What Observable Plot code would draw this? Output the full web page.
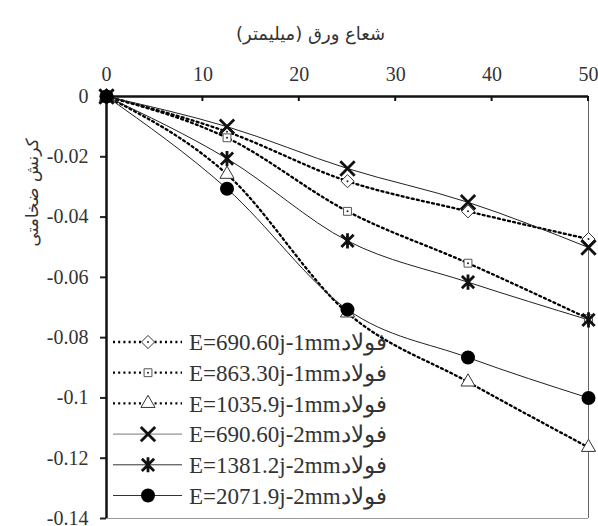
<!DOCTYPE html>
<html><head><meta charset="utf-8">
<script src="https://cdn.jsdelivr.net/npm/d3@7"></script>
<script src="https://cdn.jsdelivr.net/npm/@observablehq/plot@0.6"></script>
<style>
html,body{margin:0;padding:0;background:#fff;}
#chart svg{display:block;}
</style>
</head><body><div id="chart"></div>
<script>
// ---- data ----
const radius = [0, 12.5, 25, 37.5, 50];
const seriesNames = [
  "E=690.60j-1mmفولاد",
  "E=863.30j-1mmفولاد",
  "E=1035.9j-1mmفولاد",
  "E=690.60j-2mmفولاد",
  "E=1381.2j-2mmفولاد",
  "E=2071.9j-2mmفولاد"
];
const strain690_1mm  = [0, -0.0117, -0.0281, -0.0381, -0.0473];
const strain863_1mm  = [0, -0.0137, -0.0381, -0.0553, -0.0737];
const strain1036_1mm = [0, -0.0258, -0.0718, -0.0947, -0.1164];
const strain690_2mm  = [0, -0.0100, -0.0239, -0.0351, -0.0501];
const strain1381_2mm = [0, -0.0206, -0.0479, -0.0616, -0.0741];
const strain2072_2mm = [0, -0.0306, -0.0707, -0.0866, -0.1000];
const xTicks = [0, 10, 20, 30, 40, 50];
const yTicks = [0, -0.02, -0.04, -0.06, -0.08, -0.1, -0.12, -0.14];
const xTitle = "شعاع ورق (میلیمتر)";
const yTitle = "کرنش ضخامتی";

const allValues = [strain690_1mm, strain863_1mm, strain1036_1mm, strain690_2mm, strain1381_2mm, strain2072_2mm];
const rows = seriesNames.flatMap((name, i) => radius.map((r, j) => ({series: name, idx: i, x: r, y: allValues[i][j]})));

const serif = "Liberation Serif, DejaVu Serif, Times New Roman, serif";

// ---- custom symbols ----
const timesSym = {draw(ctx, size) { const r = Math.sqrt(size / Math.PI); ctx.moveTo(-r, -r); ctx.lineTo(r, r); ctx.moveTo(-r, r); ctx.lineTo(r, -r); }};
const asterSym = {draw(ctx, size) { const r = Math.sqrt(size / Math.PI), k = r * 0.85; ctx.moveTo(-k, -k); ctx.lineTo(k, k); ctx.moveTo(-k, k); ctx.lineTo(k, -k); ctx.moveTo(0, -r * 1.05); ctx.lineTo(0, r * 1.05); }};

const styles = [
  {symbol: "diamond2", r: 5.9, fill: "white", stroke: "#333", sw: 1, dotted: true, centerDot: true, lineColor: "#000"},
  {symbol: "square2", r: 5.0, fill: "white", stroke: "#555", sw: 1, dotted: true, centerDot: true, lineColor: "#000"},
  {symbol: "triangle2", r: 6.7, fill: "white", stroke: "#333", sw: 1, dotted: true, lineColor: "#000"},
  {symbol: timesSym, r: 7.2, fill: "none", stroke: "#111", sw: 2.8, dotted: false, lineColor: "#777"},
  {symbol: asterSym, r: 7.2, fill: "none", stroke: "#111", sw: 2.8, dotted: false, lineColor: "#333"},
  {symbol: "circle", r: 7, fill: "#000", stroke: "none", sw: 0, dotted: false, lineColor: "#333"}
];

const lineMarks = styles.map((s, i) => Plot.line(rows.filter(d => d.idx === i), {
  x: "x", y: "y", curve: "monotone-x",
  stroke: s.dotted ? "#000" : "#222",
  strokeWidth: s.dotted ? 2.3 : 1,
  strokeDasharray: s.dotted ? "2,3.2" : null
}));
const dotMarks = styles.flatMap((s, i) => {
  const m = [Plot.dot(rows.filter(d => d.idx === i), {x: "x", y: "y", symbol: s.symbol, r: s.r, fill: s.fill, stroke: s.stroke, strokeWidth: s.sw})];
  if (s.centerDot) m.push(Plot.dot(rows.filter(d => d.idx === i && d.x > 0), {x: "x", y: "y", r: 1, fill: "#222", stroke: "none"}));
  return m;
});

const chart = Plot.plot({
  width: 598, height: 526,
  marginTop: 96, marginLeft: 106, marginRight: 10, marginBottom: 8,
  x: {domain: [0, 50]},
  y: {domain: [-0.14, 0]},
  style: {fontFamily: serif, fontSize: "20px", color: "#222", background: "white"},
  marks: [
    Plot.ruleX([50], {stroke: "#666", strokeWidth: 1}),
    Plot.ruleY([-0.14], {stroke: "#999", strokeWidth: 1}),
    Plot.axisX(xTicks, {anchor: "top", tickSize: 0, tickPadding: 16, fontSize: 20, fontFamily: serif, fill: "#333", label: null}),
    Plot.axisY(yTicks, {anchor: "left", tickSize: 6, tickPadding: 12, strokeWidth: 2, fontSize: 20, fontFamily: serif, fill: "#333", tickFormat: d => String(d), label: null}),
    Plot.ruleX([0], {stroke: "#111", strokeWidth: 2.5}),
    Plot.ruleY([0], {stroke: "#111", strokeWidth: 2.5}),
    Plot.text([xTitle], {frameAnchor: "top", dx: -37, dy: -69, fontSize: 18, fontFamily: "DejaVu Sans, sans-serif", fill: "#333"}),
    Plot.text([yTitle], {frameAnchor: "left", rotate: -90, dx: -74, dy: -61, fontSize: 17, fontFamily: "DejaVu Sans, sans-serif", fill: "#333"}),
    ...lineMarks,
    ...dotMarks
  ]
});
document.getElementById("chart").appendChild(chart);

const svg = d3.select(chart);
const xs = chart.scale("x"), ys = chart.scale("y");

// inward ticks on the top x axis
const tg = svg.append("g").attr("stroke", "#111").attr("stroke-width", 2);
xTicks.filter(d => d > 0).forEach(v => {
  const px = xs.apply(v), py = ys.apply(0);
  tg.append("line").attr("x1", px).attr("x2", px).attr("y1", py).attr("y2", py + 5);
});

// ---- legend ----
const lg = svg.append("g").attr("text-anchor", "start");
seriesNames.forEach((name, i) => {
  const s = styles[i];
  const cy = 342 + i * 30.7;
  lg.append("line").attr("x1", 113).attr("x2", 182).attr("y1", cy).attr("y2", cy)
    .attr("stroke", s.lineColor).attr("stroke-width", s.dotted ? 2.3 : 1)
    .attr("stroke-dasharray", s.dotted ? "2,3.2" : null);
  const symType = typeof s.symbol === "string" ? {diamond2: d3.symbolDiamond2, square2: d3.symbolSquare2, triangle2: d3.symbolTriangle2, circle: d3.symbolCircle}[s.symbol] : s.symbol;
  lg.append("path").attr("transform", `translate(148,${cy})`)
    .attr("d", d3.symbol(symType, Math.PI * s.r * s.r)())
    .attr("fill", s.fill).attr("stroke", s.stroke === "none" ? null : s.stroke).attr("stroke-width", s.sw);
  if (s.centerDot) lg.append("circle").attr("cx", 148).attr("cy", cy).attr("r", 1).attr("fill", "#222");
  lg.append("text").attr("x", 189).attr("y", cy).attr("dy", "0.36em")
    .attr("text-anchor", "start").attr("font-family", serif)
    .attr("font-size", 23).attr("fill", "#333").text(name);
});
</script>
</body></html>
